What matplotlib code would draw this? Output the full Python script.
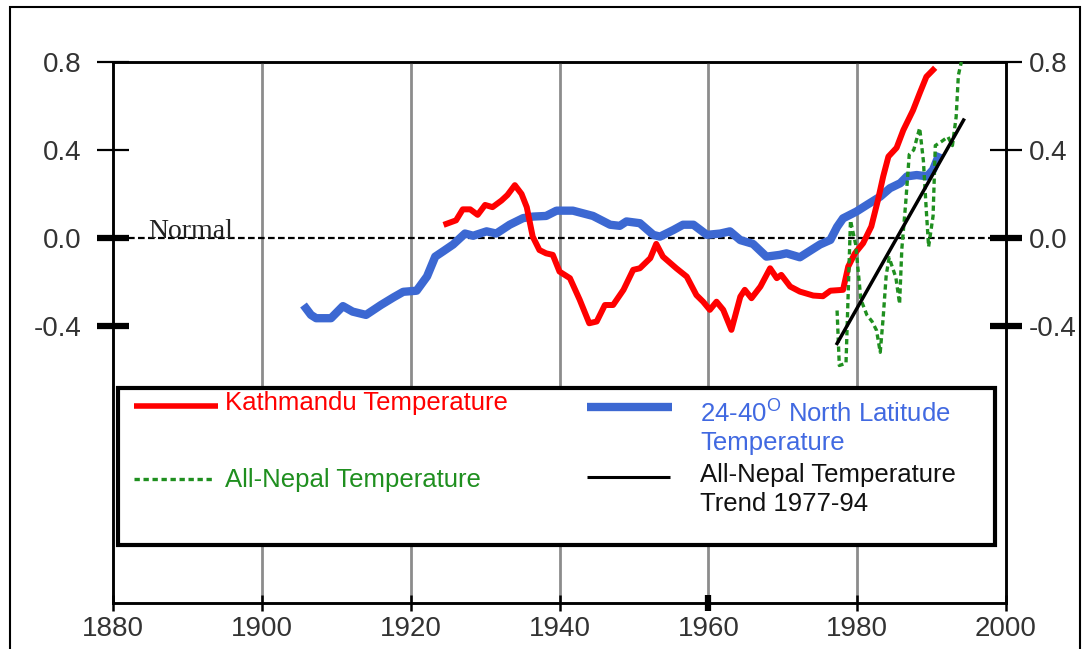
import matplotlib
matplotlib.use("Agg")
import matplotlib.pyplot as plt
from matplotlib.patches import Rectangle
from matplotlib.lines import Line2D

plt.rcParams["font.family"] = ["Liberation Sans", "DejaVu Sans"]
plt.rcParams["mathtext.fontset"] = "custom"
plt.rcParams["mathtext.rm"] = "Liberation Sans"

# 24-40 N latitude temperature (smoothed)
lat_years = [1905.6, 1906.6, 1907.3, 1909.3, 1910.9, 1912.2, 1914.0, 1916.0, 1917.7,
             1919.0, 1920.8, 1922.2, 1923.3, 1924.4, 1925.7, 1927.3, 1928.4, 1930.2,
             1931.5, 1933.3, 1935.1, 1936.4, 1938.2, 1939.6, 1941.8, 1944.5, 1946.8,
             1948.1, 1949.0, 1950.8, 1952.6, 1953.5, 1955.3, 1956.6, 1958.0, 1959.8,
             1961.6, 1962.9, 1964.3, 1966.0, 1967.8, 1969.6, 1970.5, 1972.3, 1973.6,
             1975.0, 1976.4, 1977.3, 1978.1, 1979.9, 1981.3, 1983.1, 1984.4, 1985.8,
             1986.7, 1988.0, 1989.4, 1990.2, 1991.1]
lat_vals = [-0.305, -0.35, -0.365, -0.365, -0.31, -0.335, -0.35, -0.305, -0.27,
            -0.245, -0.24, -0.175, -0.085, -0.06, -0.03, 0.02, 0.01, 0.03,
            0.02, 0.06, 0.09, 0.097, 0.10, 0.124, 0.124, 0.10, 0.06,
            0.055, 0.075, 0.067, 0.014, 0.006, 0.036, 0.06, 0.06, 0.014,
            0.02, 0.03, -0.01, -0.027, -0.085, -0.077, -0.07, -0.088, -0.06,
            -0.03, -0.009, 0.05, 0.089, 0.12, 0.15, 0.188, 0.226, 0.249,
            0.28, 0.286, 0.28, 0.31, 0.385]

# Kathmandu temperature (smoothed)
ktm_years = [1924.8, 1926.1, 1927.0, 1928.0, 1929.0, 1930.0, 1931.0, 1932.2, 1933.0,
             1934.0, 1934.9, 1935.6, 1936.4, 1937.3, 1938.2, 1939.1, 1940.0, 1941.4,
             1942.7, 1944.0, 1945.0, 1946.1, 1947.2, 1948.6, 1949.9, 1950.8, 1952.2,
             1953.0, 1953.9, 1955.7, 1957.1, 1958.4, 1959.3, 1960.2, 1961.1, 1962.0,
             1963.1, 1964.3, 1964.9, 1965.8, 1967.0, 1968.3, 1969.2, 1969.8, 1971.0,
             1972.3, 1974.1, 1975.4, 1976.4, 1978.1, 1978.8, 1979.7, 1980.8, 1981.9,
             1982.8, 1983.5, 1984.2, 1985.3, 1986.2, 1987.5, 1988.4, 1989.3, 1990.2]
ktm_vals = [0.064, 0.08, 0.13, 0.13, 0.105, 0.15, 0.14, 0.17, 0.195,
            0.24, 0.20, 0.14, 0.006, -0.055, -0.07, -0.077, -0.153, -0.183,
            -0.28, -0.388, -0.38, -0.305, -0.305, -0.236, -0.145, -0.138, -0.092,
            -0.027, -0.085, -0.138, -0.176, -0.26, -0.29, -0.327, -0.29, -0.327,
            -0.418, -0.267, -0.236, -0.274, -0.221, -0.138, -0.183, -0.168, -0.221,
            -0.244, -0.262, -0.265, -0.24, -0.236, -0.13, -0.07, -0.024, 0.052,
            0.173, 0.28, 0.37, 0.41, 0.49, 0.58, 0.658, 0.733, 0.764]

# All-Nepal temperature
nepal_years = [1977.3, 1977.6, 1978.5, 1979.1, 1979.8, 1980.5, 1981.3, 1982.0, 1982.6,
               1983.1, 1983.5, 1983.9, 1984.3, 1984.8, 1985.2, 1985.7, 1986.0, 1986.5,
               1987.0, 1987.6, 1988.4, 1988.9, 1989.3, 1989.6, 1990.2, 1990.5, 1991.4,
               1992.2, 1992.8, 1993.3, 1993.6, 1994.0]
nepal_vals = [-0.33, -0.58, -0.57, 0.08, -0.03, -0.28, -0.35, -0.38, -0.42,
              -0.52, -0.36, -0.17, -0.09, -0.14, -0.18, -0.30, -0.05, 0.15,
              0.38, 0.40, 0.50, 0.35, 0.12, -0.04, 0.10, 0.42, 0.44,
              0.46, 0.42, 0.55, 0.74, 0.80]

# All-Nepal trend 1977-94
trend_years = [1977.3, 1994.3]
trend_vals = [-0.48, 0.536]

normal_years = [1882, 2000]
normal_vals = [0.0, 0.0]

x_ticks = [1880, 1900, 1920, 1940, 1960, 1980, 2000]
y_ticks = [-0.4, 0.0, 0.4, 0.8]
y_labels = ["-0.4", "0.0", "0.4", "0.8"]

RED = "#ff0000"
BLUE = "#3c68d2"
GREEN = "#1f8f1f"
LABEL = "#333333"

fig = plt.figure(figsize=(10.88, 6.49), dpi=100)
ax = fig.add_axes([113 / 1088, 46 / 649, 893 / 1088, 541 / 649])
ax.set_xlim(1880, 2000)
ax.set_ylim(-1.66, 0.8)

# vertical grid
for yr in x_ticks[1:-1]:
    ax.axvline(yr, color="#8c8c8c", lw=2, zorder=1)

ax.plot(normal_years, normal_vals, color="black", lw=1.6, ls=(0, (3, 1.5)), zorder=2)
ax.plot(lat_years, lat_vals, color=BLUE, lw=6, solid_capstyle="butt", zorder=3)
ax.plot(ktm_years, ktm_vals, color=RED, lw=4.3, zorder=4)
ax.plot(nepal_years, nepal_vals, color=GREEN, lw=2.4, ls=(0, (1.6, 1.1)), zorder=5)
ax.plot(trend_years, trend_vals, color="black", lw=2.5, zorder=6)

ax.text(1884.7, 0.0, "Normal", family=["Liberation Serif", "DejaVu Serif"],
        fontsize=20, color="#222222", va="baseline", ha="left", zorder=7)

# axes styling
for side in ["left", "right", "bottom", "top"]:
    ax.spines[side].set_linewidth(1.8)
    ax.spines[side].set_color("black")

ax.set_xticks(x_ticks)
ax.set_xticklabels([str(x) for x in x_ticks])
ax.set_yticks(y_ticks)
ax.set_yticklabels(y_labels)
ax.tick_params(axis="x", direction="inout", length=12, width=1.8, labelsize=20,
               labelcolor=LABEL, pad=3, top=False)
ax.tick_params(axis="y", direction="inout", length=23, width=1.6, labelsize=20,
               labelcolor=LABEL, pad=11, left=True, right=False)
for i, t in enumerate(ax.yaxis.get_major_ticks()):
    if y_ticks[i] <= 0.0:
        t.tick1line.set_markeredgewidth(4.5)
ax.xaxis.get_major_ticks()[4].tick1line.set_markeredgewidth(4.5)

# right-hand axis repeats the same scale
ax_r = ax.twinx()
ax_r.set_ylim(ax.get_ylim())
ax_r.set_yticks(y_ticks)
ax_r.set_yticklabels(y_labels)
ax_r.tick_params(axis="y", direction="inout", length=23, width=1.6, labelsize=20,
                 labelcolor=LABEL, pad=5)
for side in ["left", "right", "bottom", "top"]:
    ax_r.spines[side].set_linewidth(1.8)
for i, t in enumerate(ax_r.yaxis.get_major_ticks()):
    if y_ticks[i] <= 0.0:
        t.tick2line.set_markeredgewidth(4.5)
ax_r.patch.set_visible(False)
ax.set_zorder(ax_r.get_zorder() + 1)
ax.patch.set_visible(False)

# legend box drawn by hand to keep the original layout
def ax_x(px):
    return (px - 113) / 893


def ax_y(py):
    return (603 - py) / 541


box = Rectangle((ax_x(118), ax_y(545)), ax_x(995) - ax_x(118), ax_y(388) - ax_y(545),
                transform=ax.transAxes, facecolor="white", edgecolor="black",
                lw=3, zorder=10)
ax.add_patch(box)

handles = [
    (134, 218, 406, RED, 4, "-"),
    (134, 212, 479, GREEN, 2.4, (0, (1.6, 1.1))),
    (587, 672, 407, BLUE, 6, "-"),
    (587, 670, 477, "black", 2.2, "-"),
]
for x0, x1, yy, col, lw, ls in handles:
    ax.add_line(Line2D([ax_x(x0), ax_x(x1)], [ax_y(yy), ax_y(yy)], transform=ax.transAxes,
                       color=col, lw=lw, ls=ls, solid_capstyle="butt", zorder=11))

leg_fs = 18.5
ax.text(ax_x(225), ax_y(403), "Kathmandu Temperature", color=RED, fontsize=leg_fs,
        transform=ax.transAxes, va="center", ha="left", zorder=12)
ax.text(ax_x(225), ax_y(480), "All-Nepal Temperature", color=GREEN, fontsize=leg_fs,
        transform=ax.transAxes, va="center", ha="left", zorder=12)
ax.text(ax_x(700), ax_y(413), "24-40$^{\\mathrm{O}}$ North Latitude", color="#4169e1",
        fontsize=leg_fs, transform=ax.transAxes, va="center", ha="left", zorder=12)
ax.text(ax_x(700), ax_y(443), "Temperature", color="#4169e1",
        fontsize=leg_fs, transform=ax.transAxes, va="center", ha="left", zorder=12)
ax.text(ax_x(700), ax_y(475), "All-Nepal Temperature", color="#111111",
        fontsize=leg_fs, transform=ax.transAxes, va="center", ha="left", zorder=12)
ax.text(ax_x(700), ax_y(504), "Trend 1977-94", color="#111111",
        fontsize=leg_fs, transform=ax.transAxes, va="center", ha="left", zorder=12)

# outer frame
fig.patches.append(Rectangle((10 / 1088, -0.02), 1070 / 1088, (649 - 7) / 649 + 0.02,
                             transform=fig.transFigure, fill=False, edgecolor="black",
                             lw=1.5))

fig.savefig("out.png", dpi=100)
